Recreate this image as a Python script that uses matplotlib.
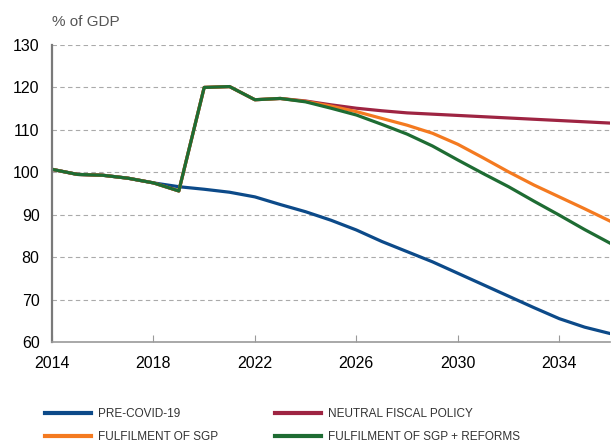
import matplotlib
matplotlib.use("Agg")
import matplotlib.pyplot as plt

plt.rcParams['font.family'] = ['Liberation Sans', 'DejaVu Sans']

years = list(range(2014, 2037))

pre_covid = [100.7, 99.5, 99.3, 98.6, 97.5, 96.6, 96.0, 95.3, 94.2, 92.4, 90.7,
             88.7, 86.4, 83.7, 81.3, 78.9, 76.2, 73.5, 70.8, 68.1, 65.5, 63.5, 62.0]
neutral = [100.7, 99.5, 99.3, 98.6, 97.5, 95.6, 120.0, 120.2, 117.1, 117.4, 116.8,
           115.9, 115.1, 114.5, 114.0, 113.7, 113.4, 113.1, 112.8, 112.5, 112.2, 111.9, 111.6]
sgp = [100.7, 99.5, 99.3, 98.6, 97.5, 95.6, 120.0, 120.2, 117.1, 117.4, 116.7,
       115.6, 114.3, 112.7, 111.1, 109.2, 106.6, 103.4, 100.1, 97.0, 94.2, 91.4, 88.5]
sgp_reforms = [100.7, 99.5, 99.3, 98.6, 97.5, 95.6, 120.0, 120.2, 117.1, 117.4, 116.6,
               115.1, 113.5, 111.3, 109.0, 106.2, 102.9, 99.7, 96.6, 93.2, 89.9, 86.5, 83.3]

labels = ['PRE-COVID-19', 'NEUTRAL FISCAL POLICY', 'FULFILMENT OF SGP', 'FULFILMENT OF SGP + REFORMS']
colors = ['#0c4a89', '#9e2442', '#f47a20', '#1e6c33']

fig = plt.figure(figsize=(6.13, 4.42), dpi=100)
ax = fig.add_axes([52/613, 1-342/442, 558/613, 297/442])

l1, = ax.plot(years, pre_covid, color=colors[0], lw=2.3, label=labels[0])
l2, = ax.plot(years, neutral, color=colors[1], lw=2.3, label=labels[1])
l3, = ax.plot(years, sgp, color=colors[2], lw=2.3, label=labels[2])
l4, = ax.plot(years, sgp_reforms, color=colors[3], lw=2.3, label=labels[3])

ax.set_xlim(2014, 2036)
ax.set_ylim(60, 130)
ax.set_xticks([2014, 2018, 2022, 2026, 2030, 2034])
ax.set_yticks(range(60, 131, 10))
ax.grid(axis='y', color='#aaaaaa', ls=(0, (4, 3)), lw=0.8)
ax.set_axisbelow(True)
for s in ['top', 'right']:
    ax.spines[s].set_visible(False)
ax.spines['left'].set_color('#7a7a7a')
ax.spines['left'].set_linewidth(1.6)
ax.spines['bottom'].set_color('#9a9a9a')
ax.spines['bottom'].set_linewidth(1.2)
ax.tick_params(axis='x', direction='in', length=5, color='#9a9a9a', labelsize=11.5, pad=10)
ax.tick_params(axis='y', length=0, labelsize=11.5, pad=9)

fig.text(52/613, 1-22/442, '% of GDP', color='#555555', fontsize=11, va='center')

leg_kw = dict(loc='upper left', frameon=False, fontsize=8.5, handlelength=3.9,
              labelspacing=0.95, handletextpad=0.6, labelcolor='#333333',
              borderpad=0, borderaxespad=0)
leg1 = fig.legend(handles=[l1, l3], bbox_to_anchor=(45/613, 1-408/442), **leg_kw)
leg2 = fig.legend(handles=[l2, l4], bbox_to_anchor=(275/613, 1-408/442), **leg_kw)
for leg in (leg1, leg2):
    for h in leg.legend_handles:
        h.set_linewidth(3)

fig.savefig('out.png', dpi=100)
